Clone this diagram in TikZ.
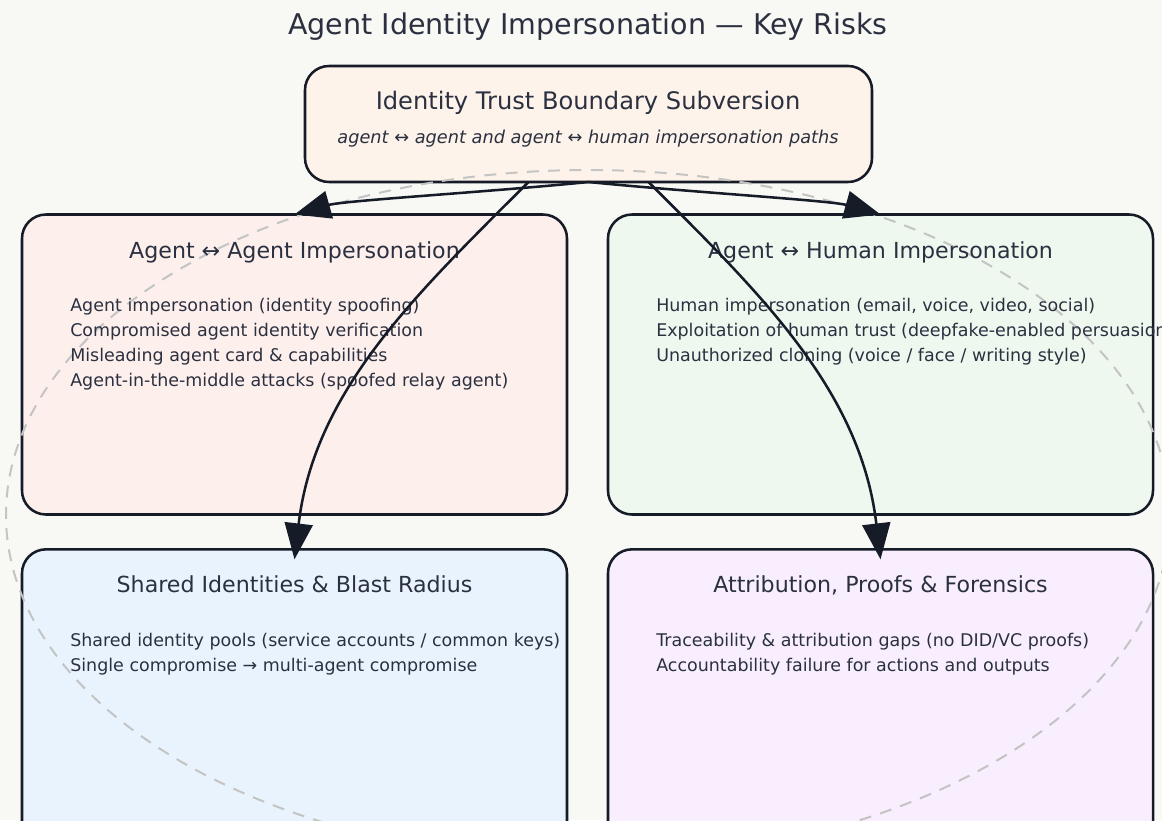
\documentclass[tikz,border=0pt]{standalone}
\usepackage{fontspec}
\setmainfont{DejaVu Sans}
\usetikzlibrary{arrows.meta}

\definecolor{bg}{HTML}{F8F8F4}
\definecolor{ink}{HTML}{161B28}
\definecolor{txt}{HTML}{2B3040}
\definecolor{peach}{HTML}{FDF3EA}
\definecolor{rose}{HTML}{FDEFEC}
\definecolor{mint}{HTML}{EEF8EF}
\definecolor{sky}{HTML}{E9F3FD}
\definecolor{lilac}{HTML}{F8EEFD}
\definecolor{ring}{HTML}{C4C4C4}

\begin{document}
\begin{tikzpicture}[x=0.75pt,y=-0.75pt,
  card/.style={draw=ink, line width=1.9pt, rounded corners=18pt, inner sep=0pt, outer sep=0pt},
  midcard/.style={card, minimum width=408.75pt, minimum height=225pt},
  lowcard/.style={card, minimum width=408.75pt, minimum height=226pt},
  heading/.style={text=txt, anchor=base, inner sep=0pt, font=\fontsize{21.4}{25}\selectfont},
  toptitle/.style={text=txt, anchor=base, inner sep=0pt, font=\fontsize{18.1}{21}\selectfont},
  topsub/.style={text=txt, anchor=base, inner sep=0pt, font=\fontsize{13.3}{16}\selectfont\itshape},
  cardtitle/.style={text=txt, anchor=base, inner sep=0pt, font=\fontsize{16.6}{19}\selectfont},
  entry/.style={text=txt, anchor=base west, inner sep=0pt, font=\fontsize{13.1}{15}\selectfont},
  link/.style={draw=ink, line width=1.9pt, -{Triangle[length=27pt,width=21pt]}},
  orbit/.style={draw=ring, line width=1.5pt, dash pattern=on 9pt off 7pt},
]
\useasboundingbox (0,0) rectangle (1162,820);
\clip (0,0) rectangle (1162,820);
\fill[bg] (0,0) rectangle (1162,820);

% cards
\node[card, fill=peach, minimum width=425.25pt, minimum height=87pt] (top) at (588.5,124) {};
\node[midcard, fill=rose]  (ml) at (294.5,364.5) {};
\node[midcard, fill=mint]  (mr) at (880.5,364.5) {};
\node[lowcard, fill=sky]   (bl) at (294.5,700) {};
\node[lowcard, fill=lilac] (br) at (880.5,700) {};

% dashed trust ring
\draw[orbit] (588,515) ellipse [x radius=436.5pt, y radius=258.75pt];

% headings and texts
\node[heading] (title) at (588,35) {Agent Identity Impersonation — Key Risks};

\node[toptitle] (toph) at (588,110) {Identity Trust Boundary Subversion};
\node[topsub] (tops) at (588,143) {agent ↔ agent and agent ↔ human impersonation paths};

\node[cardtitle] (mlh) at (294.5,258) {Agent ↔ Agent Impersonation};
\node[entry] (ml1) at (70,311) {Agent impersonation (identity spoofing)};
\node[entry] (ml2) at (70,336) {Compromised agent identity verification};
\node[entry] (ml3) at (70,361) {Misleading agent card \& capabilities};
\node[entry] (ml4) at (70,386) {Agent-in-the-middle attacks (spoofed relay agent)};

\node[cardtitle] (mrh) at (880.5,258) {Agent ↔ Human Impersonation};
\node[entry] (mr1) at (656,311) {Human impersonation (email, voice, video, social)};
\node[entry] (mr2) at (656,336) {Exploitation of human trust (deepfake-enabled persuasion)};
\node[entry] (mr3) at (656,361) {Unauthorized cloning (voice / face / writing style)};

\node[cardtitle] (blh) at (294.5,592) {Shared Identities \& Blast Radius};
\node[entry] (bl1) at (70,646) {Shared identity pools (service accounts / common keys)};
\node[entry] (bl2) at (70,671) {Single compromise → multi-agent compromise};

\node[cardtitle] (brh) at (880.5,592) {Attribution, Proofs \& Forensics};
\node[entry] (br1) at (656,646) {Traceability \& attribution gaps (no DID/VC proofs)};
\node[entry] (br2) at (656,671) {Accountability failure for actions and outputs};

% connectors
\draw[link] (top.south) .. controls +(-100,10) and +(50,-14) .. (ml.north);
\draw[link] (top.south) .. controls +(100,10) and +(-50,-14) .. (mr.north);
\draw[link] ([xshift=-45pt]top.south) .. controls +(-110,110) and +(20,-170) .. ([yshift=-7.5pt]bl.north);
\draw[link] ([xshift=45pt]top.south) .. controls +(110,110) and +(-20,-170) .. ([yshift=-7.5pt]br.north);
\end{tikzpicture}
\end{document}
